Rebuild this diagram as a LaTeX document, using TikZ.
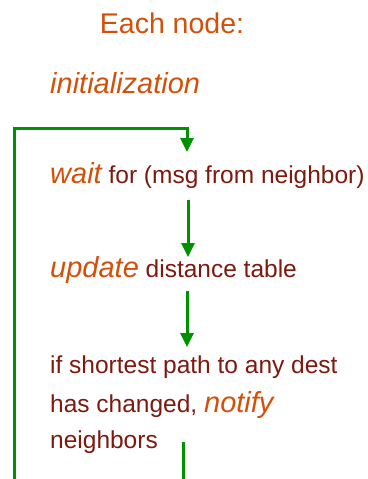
\documentclass[tikz,border=0pt]{standalone}
\usepackage{fontspec}
\setmainfont{Liberation Sans}
\usetikzlibrary{arrows.meta}
\definecolor{ttlorange}{RGB}{210,80,10}
\definecolor{txtbrown}{RGB}{125,25,15}
\definecolor{flowgreen}{RGB}{0,145,0}
\tikzset{
  lbl/.style={anchor=base west, inner sep=0pt, text=txtbrown, font=\fontsize{24.5}{28}\selectfont},
  flow/.style={draw=flowgreen, line width=3pt},
  flowarrow/.style={flow, -{Triangle[width=13pt,length=14pt]}},
}
\newcommand{\kw}[1]{{\fontsize{29}{32}\selectfont\itshape\color{ttlorange}#1}}
\begin{document}
\begin{tikzpicture}[x=1pt,y=1pt]
\useasboundingbox (0,0) rectangle (367,-479);
\node[anchor=base, inner sep=0pt, text=ttlorange, font=\fontsize{28.5}{30}\selectfont] (title) at (172,-33) {Each node:};
\node[lbl] (init) at (50,-93) {\kw{initialization}};
\node[lbl] (wait) at (50,-183) {\kw{wait} for (msg from neighbor)};
\node[lbl] (update) at (50,-277) {\kw{update} distance table};
\node[lbl] (cond1) at (50,-373) {if shortest path to any dest};
\node[lbl] (cond2) at (50,-412) {has changed, \kw{notify}};
\node[lbl] (cond3) at (50,-448) {neighbors};
% loop
\coordinate (loopbot) at (183,-479);
\coordinate (loopstart) at (183,-442);
\coordinate (leftbot) at (14,-479);
\coordinate (lefttop) at (14,-128);
\coordinate (topright) at (187,-128);
\coordinate (waitin) at (187,-152);
\draw[flow] (loopstart) -- (loopbot);
\draw[flowarrow] (leftbot) -- (lefttop) -- (topright) -- (waitin);
\coordinate (a2s) at (188,-200);
\coordinate (a2e) at (188,-257);
\draw[flowarrow] (a2s) -- (a2e);
\coordinate (a3s) at (187,-291);
\coordinate (a3e) at (187,-347);
\draw[flowarrow] (a3s) -- (a3e);
\end{tikzpicture}
\end{document}
